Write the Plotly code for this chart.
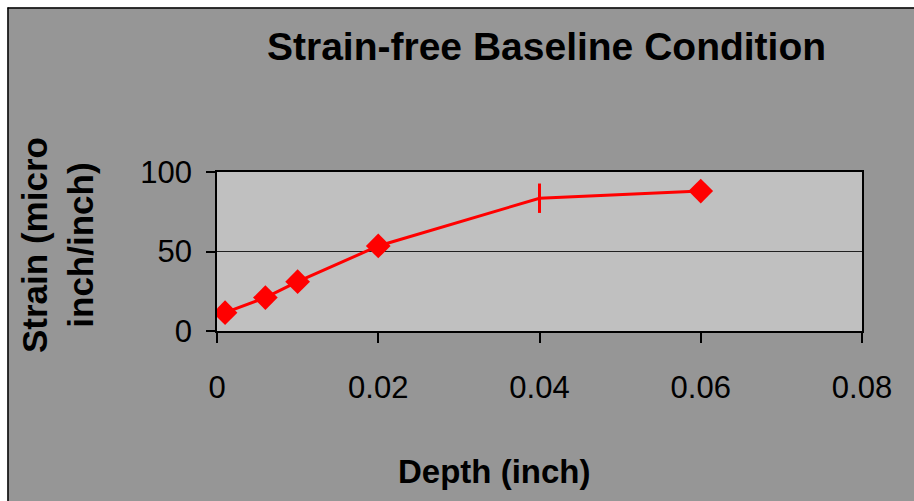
import plotly.graph_objects as go

# ---- data ----
depth = [0.001, 0.006, 0.010, 0.020, 0.040, 0.060]
strain = [11.5, 21.0, 31.0, 53.5, 83.5, 88.0]
x_ticks = [0, 0.02, 0.04, 0.06, 0.08]
x_tick_labels = ["0", "0.02", "0.04", "0.06", "0.08"]
y_ticks = [0, 50, 100]
y_tick_labels = ["0", "50", "100"]

W, H = 914, 501
L, R, T, B = 217, 52, 172, 170
pw, ph = W - L - R, H - T - B


def px(xp):
    return (xp - L) / pw


def py(yp):
    return (H - B - yp) / ph


FONT = "Liberation Sans, Arial, sans-serif"

fig = go.Figure()
fig.add_trace(go.Scatter(
    x=depth, y=strain, mode="lines+markers",
    line=dict(color="#FF0000", width=3),
    marker=dict(
        symbol=["diamond", "diamond", "diamond", "diamond", "line-ns", "diamond"],
        size=[19, 19, 19, 19, 21, 19],
        color="#FF0000",
        opacity=1,
        line=dict(color="#FF0000", width=[0, 0, 0, 0, 3, 0]),
    ),
    opacity=1,
    showlegend=False, hoverinfo="skip",
))

fig.update_layout(
    width=W, height=H,
    margin=dict(l=L, r=R, t=T, b=B, autoexpand=False),
    paper_bgcolor="#969696",
    plot_bgcolor="#C0C0C0",
    font=dict(family=FONT, color="#000000"),
    xaxis=dict(
        range=[0, 0.08], tickvals=x_ticks, ticktext=x_tick_labels,
        showgrid=False, zeroline=False,
        showline=True, linecolor="#000000", linewidth=1.5, mirror=True,
        ticks="outside", ticklen=10, tickcolor="#000000", tickwidth=1.5,
        tickfont=dict(size=31, family=FONT), ticklabelstandoff=18,
        automargin=False,
    ),
    yaxis=dict(
        range=[0, 100], tickvals=y_ticks, ticktext=y_tick_labels,
        showgrid=True, gridcolor="#202020", gridwidth=1.2, zeroline=False,
        showline=True, linecolor="#000000", linewidth=1.5, mirror=True,
        ticks="outside", ticklen=9, tickcolor="#000000", tickwidth=1.5,
        tickfont=dict(size=31, family=FONT), ticklabelstandoff=8,
        automargin=False,
    ),
    annotations=[
        dict(text="<b>Strain-free Baseline Condition</b>", xref="paper", yref="paper",
             x=px(546.5), y=py(47), xanchor="center", yanchor="middle",
             showarrow=False, font=dict(size=39, family=FONT, color="#000000")),
        dict(text="<b>Depth (inch)</b>", xref="paper", yref="paper",
             x=px(494), y=py(471), xanchor="center", yanchor="middle",
             showarrow=False, font=dict(size=33, family=FONT, color="#000000")),
        dict(text="<b>Strain (micro<br>inch/inch)</b>", xref="paper", yref="paper",
             x=px(57), y=py(245), xanchor="center", yanchor="middle", textangle=-90,
             showarrow=False, font=dict(size=35, family=FONT, color="#000000")),
    ],
    shapes=[
        dict(type="rect", xref="paper", yref="paper", x0=px(-10), x1=px(7.5),
             y0=py(-10), y1=py(520), fillcolor="#FFFFFF", line=dict(width=0), layer="above"),
        dict(type="rect", xref="paper", yref="paper", x0=px(-10), x1=px(930),
             y0=py(-10), y1=py(7.5), fillcolor="#FFFFFF", line=dict(width=0), layer="above"),
        dict(type="line", xref="paper", yref="paper", x0=px(8), x1=px(8),
             y0=py(7.5), y1=py(520), line=dict(color="#000000", width=1.5), layer="above"),
        dict(type="line", xref="paper", yref="paper", x0=px(7.5), x1=px(930),
             y0=py(8), y1=py(8), line=dict(color="#000000", width=1.5), layer="above"),
    ],
)

fig.write_html("out.html")
